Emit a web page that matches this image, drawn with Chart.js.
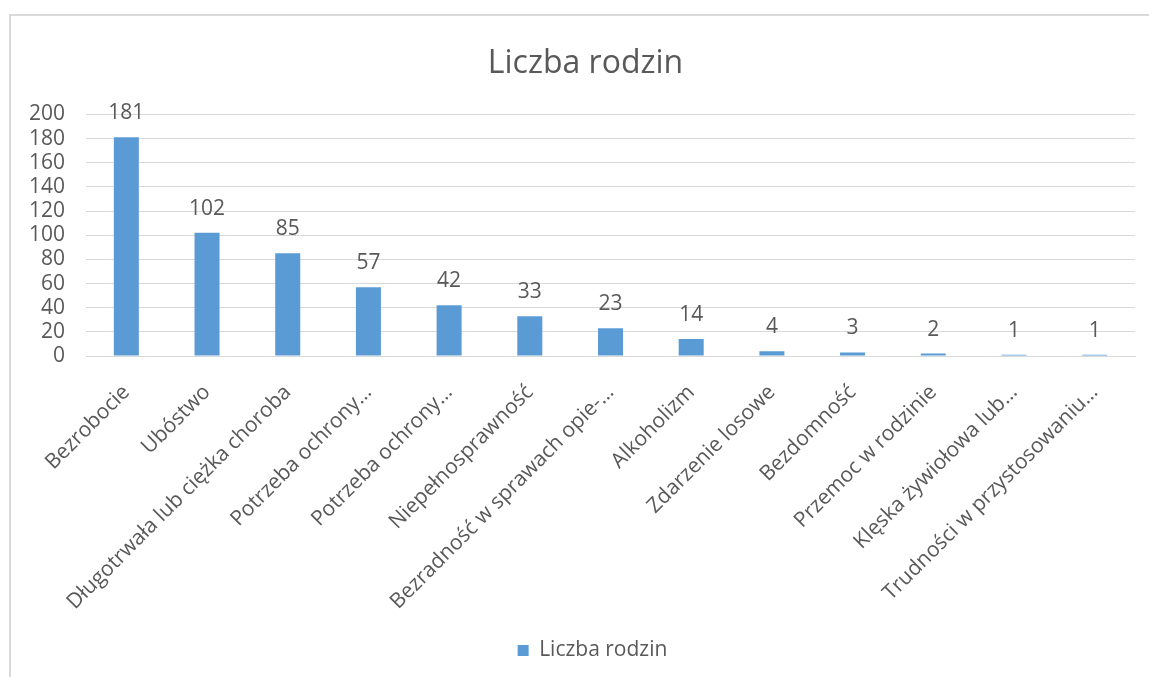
<!DOCTYPE html>
<html>
<head>
<meta charset="utf-8">
<script src="https://cdn.jsdelivr.net/npm/chart.js@4/dist/chart.umd.min.js"></script>
<style>
  html, body { margin: 0; padding: 0; background: #ffffff; overflow: hidden; }
  #wrap { position: relative; width: 1149px; height: 677px; }
  #frame { position: absolute; left: 9px; top: 14px; width: 1200px; height: 700px;
           border-left: 2px solid #d9d9d9; border-top: 2px solid #d9d9d9; box-sizing: border-box; }
  canvas { position: absolute; left: 0; top: 0; }
</style>
</head>
<body>
<div id="wrap">
  <div id="frame"></div>
  <canvas id="c" width="1149" height="677"></canvas>
</div>
<script>
const categories = [
  "Bezrobocie",
  "Ubóstwo",
  "Długotrwała lub ciężka choroba",
  "Potrzeba ochrony…",
  "Potrzeba ochrony…",
  "Niepełnosprawność",
  "Bezradność w sprawach opie-…",
  "Alkoholizm",
  "Zdarzenie losowe",
  "Bezdomność",
  "Przemoc w rodzinie",
  "Klęska żywiołowa lub…",
  "Trudności w przystosowaniu…"
];
const seriesName = "Liczba rodzin";
const values = [181, 102, 85, 57, 42, 33, 23, 14, 4, 3, 2, 1, 1];
const yTicks = [0, 20, 40, 60, 80, 100, 120, 140, 160, 180, 200];

const FONT = "'Open Sans', 'DejaVu Sans', sans-serif";
const TEXT = "#595959";

const dataLabels = {
  id: "dataLabels",
  afterDatasetsDraw(chart) {
    const ctx = chart.ctx;
    const meta = chart.getDatasetMeta(0);
    ctx.save();
    ctx.font = "21px " + FONT;
    ctx.fillStyle = TEXT;
    ctx.textAlign = "center";
    ctx.textBaseline = "middle";
    meta.data.forEach((bar, i) => {
      ctx.fillText(String(chart.data.datasets[0].data[i]), bar.x, bar.y - 24);
    });
    ctx.restore();
  }
};

const boxShift = {
  id: "boxShift",
  afterLayout(chart) {
    if (chart.legend) { chart.legend.left += 15; chart.legend.right += 15; }
    if (chart.titleBlock) { chart.titleBlock.left += 8; chart.titleBlock.right += 8; }
  }
};

new Chart(document.getElementById("c"), {
  type: "bar",
  data: {
    labels: categories,
    datasets: [{
      label: seriesName,
      data: values,
      backgroundColor: "#5B9BD5",
      borderWidth: 0,
      categoryPercentage: 1.0,
      barPercentage: 0.31
    }]
  },
  options: {
    responsive: false,
    animation: false,
    devicePixelRatio: 1,
    layout: { padding: { left: 20, right: 14, top: 36, bottom: 6 } },
    plugins: {
      title: {
        display: true,
        text: seriesName,
        color: TEXT,
        font: { family: FONT, size: 32, weight: "normal" },
        padding: { top: 9, bottom: 31 }
      },
      legend: {
        display: true,
        position: "bottom",
        labels: {
          color: TEXT,
          font: { family: FONT, size: 21 },
          boxWidth: 11,
          boxHeight: 11,
          padding: 6
        }
      },
      tooltip: { enabled: false }
    },
    scales: {
      x: {
        afterFit(scale) { scale.height = 278; },
        grid: { display: false, drawTicks: false },
        border: { display: true, color: "#d9d9d9", width: 1 },
        ticks: {
          color: TEXT,
          font: { family: FONT, size: 21 },
          minRotation: 45,
          maxRotation: 45,
          autoSkip: false,
          padding: 24
        }
      },
      y: {
        min: 0,
        max: 200,
        afterBuildTicks(scale) { scale.ticks = yTicks.map(v => ({ value: v })); },
        afterFit(scale) { scale.width = 66; },
        grid: { color: "#d9d9d9", drawTicks: false },
        border: { display: false },
        ticks: {
          color: TEXT,
          font: { family: FONT, size: 21 },
          autoSkip: false,
          padding: 21
        }
      }
    }
  },
  plugins: [dataLabels, boxShift]
});
</script>
</body>
</html>
